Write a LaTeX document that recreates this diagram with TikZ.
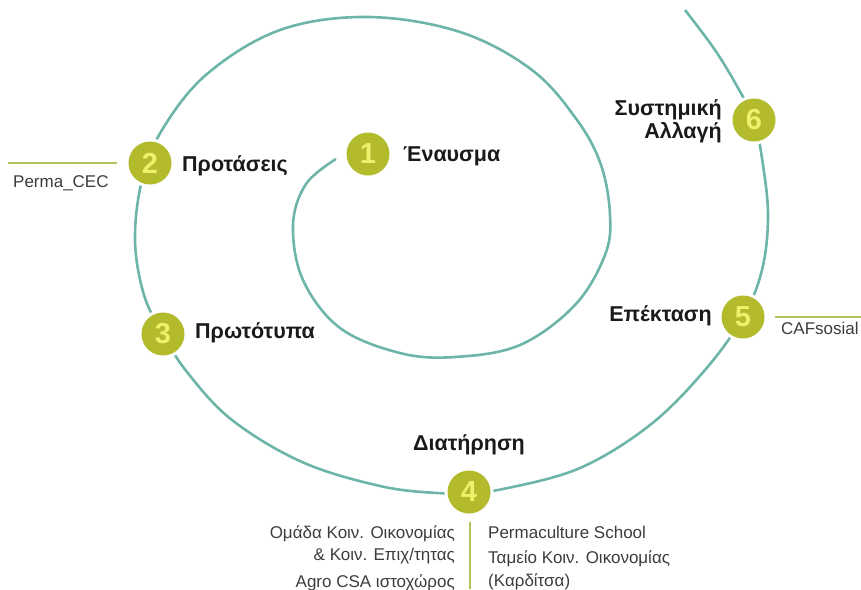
\documentclass[tikz,border=0pt]{standalone}
\usepackage{fontspec}
\setmainfont{Liberation Sans}
\definecolor{teal}{HTML}{6DB5A8}
\definecolor{circgreen}{HTML}{B3BA2C}
\definecolor{digit}{HTML}{ECF06A}
\definecolor{rule}{HTML}{B5C25A}
\definecolor{txt}{HTML}{1A1A1A}
\begin{document}
\begin{tikzpicture}[x=1pt,y=-1pt,
  numcirc/.style={circle, fill=circgreen, minimum size=43pt, inner sep=0pt,
    preaction={draw=white, line width=6pt}, text=digit,
    font=\fontsize{29}{29}\selectfont\bfseries},
  biglabel/.style={inner sep=0pt, text=txt, font=\fontsize{21.5}{24}\selectfont\bfseries},
  smalllabel/.style={inner sep=0pt, text=txt!85, font=\fontsize{17}{20}\selectfont},
  spiral/.style={draw=teal, line width=2.6pt},
  greenrule/.style={draw=rule, line width=1.8pt}]
\useasboundingbox (0,0) rectangle (861,589);
% spiral
\draw[spiral] plot[smooth, tension=0.6] coordinates {
 (336,159) (306,184) (293,225) (303,280) (340,328) (400,353) (455,357)
 (520,345) (575,305) (605,255) (610,215) (601,165) (577,120) (532,70)
 (460,32) (368,17) (280,30) (207,74) (162,130) (142,180) (135,240)
 (144,295) (163,334) (187,372) (232,420) (302,462) (380,486) (437,493)
 (469,492) (503,489) (580,468) (650,425) (705,370) (743,317) (762,270)
 (768,217) (763,165) (754,120) (738,88) (715,50) (685,10)};
% numbered circles
\node[numcirc] (n1) at (368,154) {1};
\node[numcirc] (n2) at (150,163) {2};
\node[numcirc] (n3) at (163,334) {3};
\node[numcirc] (n4) at (469,492) {4};
\node[numcirc] (n5) at (743,317) {5};
\node[numcirc] (n6) at (754,120) {6};
% labels
\node[biglabel, anchor=base west] (l1) at (403,161) {Έναυσμα};
\node[biglabel, anchor=base west] (l2) at (182,171) {Προτάσεις};
\node[biglabel, anchor=base west] (l3) at (195,338) {Πρωτότυπα};
\node[biglabel, anchor=base] (l4) at (469,450) {Διατήρηση};
\node[biglabel, anchor=base east] (l5) at (712,321) {Επέκταση};
\node[biglabel, anchor=base east] (l6a) at (722,115) {Συστημική};
\node[biglabel, anchor=base east] (l6b) at (722,138) {Αλλαγή};
% side notes
\coordinate (r2a) at (8,163);
\coordinate (r2b) at (117,163);
\draw[greenrule] (r2a) -- (r2b);
\node[smalllabel, anchor=base west] (p2) at (13,187) {Perma\_CEC};
\coordinate (r5a) at (775,317);
\coordinate (r5b) at (861,317);
\draw[greenrule] (r5a) -- (r5b);
\node[smalllabel, anchor=base west] (p5) at (781,334) {CAFsosial};
% bottom notes
\coordinate (v1) at (470,522);
\coordinate (v2) at (470,589);
\draw[greenrule] (v1) -- (v2);
\node[smalllabel, anchor=base east] (b1) at (455,538) {Ομάδα Κοιν. Οικονομίας};
\node[smalllabel, anchor=base east] (b2) at (455,560) {\& Κοιν. Επιχ/τητας};
\node[smalllabel, anchor=base east] (b3) at (455,587) {Agro CSA ιστοχώρος};
\node[smalllabel, anchor=base west] (b4) at (488,538) {Permaculture School};
\node[smalllabel, anchor=base west] (b5) at (488,563) {Ταμείο Κοιν. Οικονομίας};
\node[smalllabel, anchor=base west] (b6) at (488,586) {(Καρδίτσα)};
\end{tikzpicture}
\end{document}
